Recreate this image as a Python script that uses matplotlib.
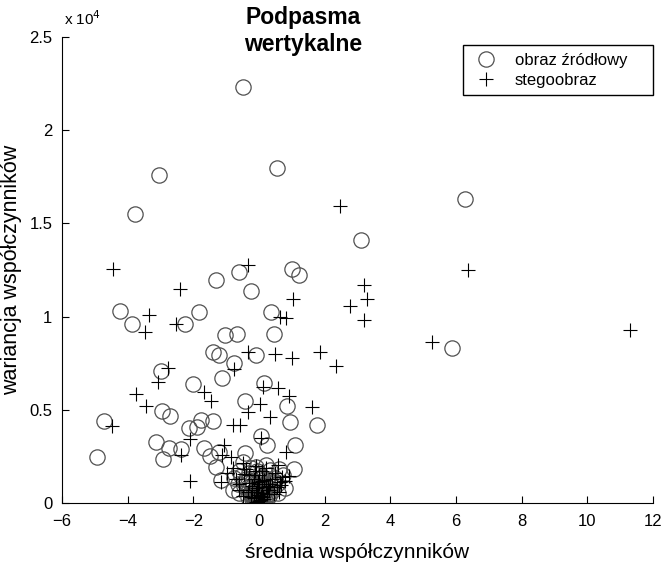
import matplotlib
matplotlib.use("Agg")
import matplotlib.pyplot as plt
from matplotlib.ticker import FuncFormatter

plt.rcParams['font.family'] = ['Liberation Sans', 'DejaVu Sans']

# obraz źródłowy (średnia, wariancja)
src_x = [-0.48, 0.56, -3.04, -3.77, 6.26, 3.11, -1.31, -0.60, -0.24, 1.02, 1.21,
         -4.23, -3.87, -1.82, -2.24, 0.38, -1.03, -0.67, 0.46, 5.88, -1.41, -1.22,
         -0.09, -0.77, -2.98, -1.13, 0.16, -2.00, -0.42, 0.84, -2.94, -2.70, -4.73,
         -2.14, -1.90, -1.76, -1.41, 0.94, 1.76, -3.13, -2.73, -2.39, -1.68, -1.49,
         -2.92, -4.94, -0.43, 0.25, 0.05, 1.11, 1.08, -1.31, -1.21, -1.17,
         -0.50, -0.09, 0.32, 0.73, -0.76, 0.57, -0.60, -0.30, 0.10, -0.20, 0.45,
         -0.45, 0.20, -0.10, 0.05, -0.25, 0.30, -0.05, 0.10, -0.15, 0.00, -0.35,
         0.15, -0.60, 0.55, 0.80, -0.80, -0.40, 0.35, 0.00, -0.20, 0.20, -0.10,
         0.05, -0.30, 0.25, 0.60, -0.65, -0.05, 0.40, -0.15, 0.08,
         -0.12, -0.05, 0.02, 0.08, -0.18, 0.12, -0.08, 0.00, -0.22, 0.18,
         -0.02, 0.05, -0.10, 0.10, -0.28, 0.26, -0.15, 0.15, 0.00, -0.06,
         0.06, -0.35, 0.33, -0.45, 0.42, -0.55, 0.50, -0.25, 0.22, 0.03]
src_y = [22335, 17973, 17581, 15505, 16326, 14110, 11948, 12377, 11374, 12538, 12216,
         10317, 9587, 10231, 9587, 10247, 8997, 9067, 9067, 8332, 8117, 7956,
         7956, 7495, 7098, 6722, 6422, 6368, 5488, 5220, 4952, 4651, 4383,
         4008, 4061, 4453, 4399, 4330, 4185, 3273, 2967, 2881, 2951, 2505,
         2345, 2484, 2683, 3128, 3595, 3128, 1824, 1915, 2736, 1250,
         2220, 1950, 1770, 1500, 1330, 520, 520, 1600, 1400, 1100, 1200,
         900, 900, 800, 600, 500, 400, 300, 200, 150, 100, 300,
         700, 1700, 1000, 800, 700, 1300, 1500, 1300, 400, 300, 50,
         450, 700, 1150, 1800, 1000, 1700, 650, 250, 950,
         20, 60, 30, 120, 80, 50, 180, 250, 200, 150,
         350, 320, 420, 380, 550, 480, 620, 580, 700, 900,
         1050, 850, 780, 1150, 1050, 1450, 1350, 1900, 2050, 1550]

# stegoobraz
steg_x = [2.48, -4.44, -2.41, -0.32, 6.37, 3.19, 3.28, 2.76, 3.19, 1.05, 0.65,
          0.83, -3.34, -3.47, -2.52, 11.31, 5.27, 1.85, -0.33, 0.50, 1.00, 2.34,
          -2.78, -0.76, -3.08, -3.74, -3.43, -4.49, -1.66, -1.47, -0.32, 0.03,
          0.11, 0.59, 0.91, 0.32, -0.78, -0.58, -2.11, 0.07, -1.07, -1.13, -2.37,
          0.81, -2.11, -0.84, 1.60,
          -0.96, -1.17, -0.50, 0.57, 0.67, 0.21, -0.30, 0.10, -0.20, 0.40, -0.60,
          0.30, -0.10, 0.05, -0.25, 0.15, 0.00, -0.05, 0.50, -0.40, 0.70, -0.70,
          0.25, -0.35, 0.00, -0.15, 0.35, 0.80, -0.80, 0.10, -0.10, 0.60, -0.50,
          -0.08, 0.04, -0.16, 0.12, -0.02, 0.08, -0.22, 0.20, -0.04, 0.00,
          -0.12, 0.16, -0.30, 0.28, 0.45, -0.45, 0.55, -0.60, 0.65, 0.90]
steg_y = [15918, 12570, 11465, 12753, 12484, 11696, 10945, 10585, 9818, 10945, 9995,
          9909, 10070, 9174, 9619, 9298, 8638, 8101, 8085, 7994, 7795, 7334,
          7227, 7189, 6508, 5848, 5188, 4115, 5939, 5488, 4898, 5295,
          6223, 6154, 5757, 4598, 4169, 4169, 3450, 3471, 3096, 2575, 2559,
          2736, 1180, 2452, 5134,
          1590, 1140, 2130, 2040, 970, 1860, 1500, 1200, 900, 1300, 1000,
          700, 600, 400, 300, 200, 100, 800, 1600, 1800, 1400, 1300,
          500, 600, 1000, 1300, 1000, 1200, 1900, 1700, 2000, 600, 400,
          50, 150, 250, 300, 450, 550, 700, 850, 1100, 1500,
          1700, 1250, 1050, 900, 500, 1550, 850, 700, 1100, 1450]

fig = plt.figure(figsize=(6.62, 5.63), dpi=100)
ax = fig.add_axes([62 / 662, 60 / 563, 591 / 662, 466 / 563])

ax.plot(src_x, src_y, 'o', mfc='none', mec='#505050', ms=11, mew=0.9,
        label='obraz źródłowy')
ax.plot(steg_x, steg_y, '+', color='black', ms=9.5, mew=0.8, label='stegoobraz')

ax.set_xlim(-6, 12)
ax.set_ylim(0, 25000)
ax.set_xticks(range(-6, 13, 2))
ax.set_yticks([0, 5000, 10000, 15000, 20000, 25000])
ax.yaxis.set_major_formatter(FuncFormatter(lambda v, _: f"{v / 1e4:g}"))
ax.tick_params(direction='in', length=5, labelsize=12, width=0.8)
ax.tick_params(axis='y', pad=7)
ax.tick_params(axis='x', pad=8)
for s in ['top', 'right']:
    ax.spines[s].set_visible(False)
for s in ['left', 'bottom']:
    ax.spines[s].set_linewidth(0.8)

ax.set_xlabel('średnia współczynników', fontsize=15, labelpad=10)
ax.set_ylabel('wariancja współczynników', fontsize=15.5, labelpad=5)
fig.text(303 / 662, 1 - 6 / 563, 'Podpasma\nwertykalne', ha='center', va='top',
         fontsize=16.5, fontweight='bold', linespacing=1.25)
fig.text(64 / 662, 1 - 19 / 563, r'x 10$^{4}$', ha='left', va='center', fontsize=11)

leg = ax.legend(loc='upper left', mode='expand',
                bbox_to_anchor=(463 / 662, 1 - 97 / 563, 190 / 662, 52 / 563),
                bbox_transform=fig.transFigure, fancybox=False, framealpha=1,
                edgecolor='black', fontsize=12, borderaxespad=0, handletextpad=0.85,
                handlelength=1.8, borderpad=0.45, labelspacing=0.3)
leg.get_frame().set_linewidth(1.0)

fig.savefig('out.png', dpi=100)
